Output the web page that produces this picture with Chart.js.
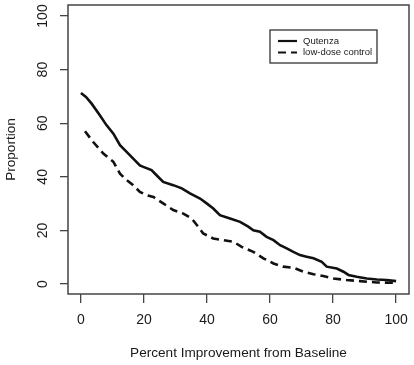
<!DOCTYPE html>
<html>
<head>
<meta charset="utf-8">
<script src="https://cdn.jsdelivr.net/npm/chart.js@4.4.0/dist/chart.umd.min.js"></script>
<style>
  html, body { margin: 0; padding: 0; background: #fff; }
  #wrap { width: 414px; height: 365px; }
</style>
</head>
<body>
<div id="wrap"><canvas id="myChart" width="414" height="365"></canvas></div>
<script>
// curves (percent improvement vs proportion of patients)
const qutenzaPct  = [0, 1.6, 3.4, 6, 8.1, 10.3, 12.4, 14.5, 16.6, 18.7, 19.8, 22.4, 24, 26.1, 29.3, 32, 34.6, 37.8, 39.9, 42, 44.1, 47.3, 50.5, 53.1, 54.7, 56.8, 58.9, 61.1, 63.2, 65.3, 67.4, 69.5, 71.6, 73.8, 76.4, 78, 81.2, 83.3, 84.9, 87.5, 90.7, 93.9, 97, 100];
const qutenzaProp = [71.3, 69.8, 67.3, 63, 59.3, 56.1, 51.8, 49.3, 46.8, 44.3, 43.7, 42.5, 40.6, 38.1, 36.9, 35.7, 33.8, 31.9, 30.1, 28.2, 25.7, 24.5, 23.2, 21.4, 20.1, 19.5, 17.6, 16.4, 14.5, 13.3, 12, 10.8, 10.2, 9.6, 8.3, 6.5, 5.8, 4.6, 3.4, 2.7, 2.1, 1.7, 1.5, 1.1];

const controlPct  = [1.3, 3.9, 7.1, 10.3, 12.4, 14.5, 16.6, 18.7, 20.8, 23, 26.1, 29.3, 32.5, 35.1, 37.2, 38.8, 42, 45.2, 48.4, 51, 54.7, 57.9, 61.1, 64.2, 67.4, 70.6, 73.8, 76.9, 80.1, 84.3, 88.6, 93.9, 100];
const controlProp = [57, 53, 48.7, 45.6, 41.2, 38.8, 36.9, 34.4, 33.2, 32.5, 30.1, 27.6, 26.3, 24.5, 21.4, 18.9, 17, 16.4, 15.8, 13.9, 12, 9.6, 7.7, 6.5, 6.1, 4.6, 3.7, 3, 2.1, 1.5, 1.1, 0.6, 0.5];

const xTicks = [0, 20, 40, 60, 80, 100];
const yTicks = [0, 20, 40, 60, 80, 100];

const ink = '#1a1a1a';
const fontFam = '"Liberation Sans", Arial, sans-serif';

function toPoints(xs, ys) {
    return xs.map((x, i) => ({ x: x, y: ys[i] }));
}

// R style: full box around the plot region
const boxPlugin = {
    id: 'box',
    afterDraw(chart) {
        const a = chart.chartArea;
        const ctx = chart.ctx;
        ctx.save();
        ctx.strokeStyle = '#444';
        ctx.lineWidth = 1.5;
        ctx.strokeRect(a.left, a.top, a.right - a.left, a.bottom - a.top);
        ctx.restore();
    }
};

// legend inside the plot, top right, with its own frame
const insideLegend = {
    id: 'insideLegend',
    afterDraw(chart) {
        const a = chart.chartArea;
        const ctx = chart.ctx;
        const x0 = a.right - 139, y0 = a.top + 25, w = 107, h = 33;
        ctx.save();
        ctx.strokeStyle = '#333';
        ctx.lineWidth = 1.3;
        ctx.strokeRect(x0, y0, w, h);
        ctx.font = '9.5px ' + fontFam;
        ctx.fillStyle = ink;
        ctx.textBaseline = 'middle';
        chart.data.datasets.forEach((ds, i) => {
            const yy = y0 + 11 + i * 11.5;
            ctx.beginPath();
            ctx.setLineDash(ds.borderDash || []);
            ctx.lineWidth = 2.2;
            ctx.strokeStyle = ds.borderColor;
            ctx.moveTo(x0 + 8, yy);
            ctx.lineTo(x0 + 27, yy);
            ctx.stroke();
            ctx.setLineDash([]);
            ctx.fillText(ds.label, x0 + 33, yy);
        });
        ctx.restore();
    }
};

window.onload = () => {
    const ctx = document.getElementById('myChart').getContext('2d');
    const myChart = new Chart(ctx, {
        type: 'line',
        data: {
            datasets: [{
                label: 'Qutenza',
                data: toPoints(qutenzaPct, qutenzaProp),
                borderColor: '#111',
                borderWidth: 2.6,
                pointRadius: 0,
                tension: 0,
                fill: false
            }, {
                label: 'low-dose control',
                data: toPoints(controlPct, controlProp),
                borderColor: '#111',
                borderWidth: 2.6,
                borderDash: [8, 5],
                pointRadius: 0,
                tension: 0,
                fill: false
            }]
        },
        options: {
            responsive: false,
            animation: false,
            layout: { padding: { left: 0, right: 5, top: 5, bottom: 0 } },
            plugins: {
                legend: { display: false },
                tooltip: { enabled: false }
            },
            scales: {
                x: {
                    type: 'linear',
                    min: -4.1,
                    max: 104.1,
                    afterBuildTicks: s => { s.ticks = xTicks.map(v => ({ value: v })); },
                    afterFit: s => { s.height = 71; s.paddingLeft = 0; s.paddingRight = 0; },
                    border: { display: false },
                    grid: {
                        drawOnChartArea: false,
                        drawTicks: true,
                        tickLength: 9,
                        color: '#444',
                        lineWidth: 1.3
                    },
                    ticks: {
                        autoSkip: false,
                        maxRotation: 0,
                        padding: 9,
                        color: ink,
                        font: { family: fontFam, size: 14 }
                    },
                    title: {
                        display: true,
                        text: 'Percent Improvement from Baseline',
                        color: ink,
                        padding: { top: 0, bottom: 4 },
                        font: { family: fontFam, size: 13.6 }
                    }
                },
                y: {
                    type: 'linear',
                    min: -3.7,
                    max: 104.1,
                    afterBuildTicks: s => { s.ticks = yTicks.map(v => ({ value: v })); },
                    afterFit: s => { s.width = 68; s.paddingTop = 0; s.paddingBottom = 0; },
                    border: { display: false },
                    grid: {
                        drawOnChartArea: false,
                        drawTicks: true,
                        tickLength: 8,
                        color: '#444',
                        lineWidth: 1.3
                    },
                    ticks: {
                        autoSkip: false,
                        minRotation: 90,
                        maxRotation: 90,
                        crossAlign: 'center',
                        padding: 5,
                        color: ink,
                        font: { family: fontFam, size: 14 }
                    },
                    title: {
                        display: true,
                        text: 'Proportion',
                        color: ink,
                        padding: { top: 3, bottom: 0 },
                        font: { family: fontFam, size: 13.6 }
                    }
                }
            }
        },
        plugins: [boxPlugin, insideLegend]
    });
};
</script>
</body>
</html>
